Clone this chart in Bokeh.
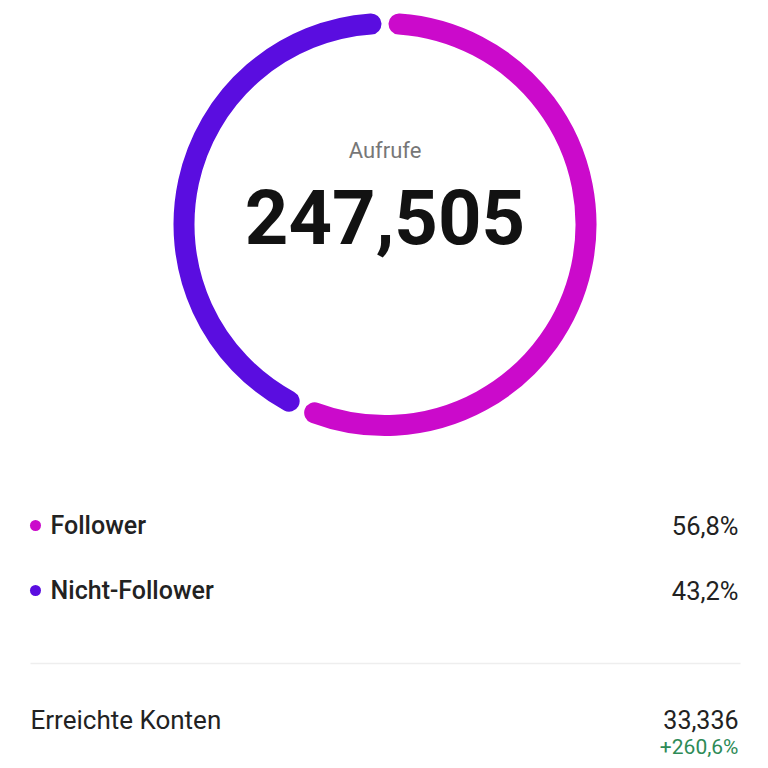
import math
from bokeh.plotting import figure
from bokeh.models import Range1d
from bokeh.core.properties import value
from bokeh.embed import file_html
from bokeh.resources import INLINE

# ---- data ----
categories = ["Follower", "Nicht-Follower"]
shares = [56.8, 43.2]
share_labels = ["56,8%", "43,2%"]
colors = ["#CB0ACB", "#5A0DE0"]
total_label = "Aufrufe"
total_value = "247,505"
reach_label = "Erreichte Konten"
reach_value = "33,336"
reach_change = "+260,6%"

W = 760
p = figure(width=W, height=W, x_range=Range1d(0, 760), y_range=Range1d(8, 768),
           output_backend="svg", toolbar_location=None, min_border=0)
p.axis.visible = False
p.grid.visible = False
p.outline_line_color = None
p.background_fill_color = "white"
p.border_fill_color = "white"

def Y(sy):
    return 768 - sy

cx, cy = 384.5, Y(224)
R = 201
lw = 21
pad = math.radians(4.0)

# arcs, clockwise from 12 o'clock
start = math.pi / 2
for share, col in zip(shares, colors):
    sweep = 2 * math.pi * share / 100.0
    a0 = start - pad
    a1 = start - sweep + pad
    p.arc(x=[cx], y=[cy], radius=[R], start_angle=[a0], end_angle=[a1],
          direction="clock", line_color=col, line_width=lw, line_cap="round")
    start -= sweep

# center texts
p.text(x=[cx], y=[Y(150)], text=[total_label], text_font=value("Roboto"),
       text_font_size="22px", text_color="#777777", text_align="center",
       text_baseline="middle")
p.text(x=[cx], y=[Y(216)], text=[total_value], text_font=value("Roboto"),
       text_font_size="76px", text_font_style="bold", text_color="#121212",
       text_align="center", text_baseline="middle")

# legend rows
row_y = [525, 590]
p.scatter(x=[35, 35], y=[Y(v) for v in row_y], size=11, color=colors, line_color=None)
p.text(x=[50, 50], y=[Y(v) for v in row_y], text=categories, text_font=value("Roboto Medium"),
       text_font_size="25px", text_color="#222222", text_align="left",
       text_baseline="middle")
p.text(x=[738, 738], y=[Y(v) for v in row_y], text=share_labels, text_font=value("Roboto"),
       text_font_size="25.5px", text_color="#222222", text_align="right",
       text_baseline="middle")

# separator
p.segment(x0=[30], y0=[Y(663)], x1=[740], y1=[Y(663)], line_color="#EEEEEE", line_width=1.5)

# reach row
p.text(x=[30], y=[Y(719)], text=[reach_label], text_font=value("Roboto"),
       text_font_size="26px", text_color="#222222", text_align="left",
       text_baseline="middle")
p.text(x=[738], y=[Y(719)], text=[reach_value], text_font=value("Roboto"),
       text_font_size="25px", text_color="#222222", text_align="right",
       text_baseline="middle")
p.text(x=[738], y=[Y(746)], text=[reach_change], text_font=value("Roboto"),
       text_font_size="21px", text_color="#2E8B57", text_align="right",
       text_baseline="middle")

open("out.html", "w").write(file_html(p, INLINE))
